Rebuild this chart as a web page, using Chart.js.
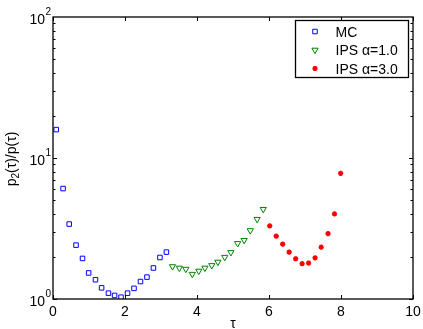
<!DOCTYPE html>
<html>
<head>
<meta charset="utf-8">
<script src="https://cdn.jsdelivr.net/npm/chart.js@4.4.0/dist/chart.umd.min.js"></script>
<style>
html, body { margin: 0; padding: 0; background: #fff; }
canvas { display: block; }
</style>
</head>
<body>
<canvas id="grafico" width="423" height="329"></canvas>
<script>
// datos
const mcTau = [0.09, 0.28, 0.45, 0.64, 0.82, 0.99, 1.18, 1.35, 1.54, 1.71, 1.89, 2.07, 2.25, 2.43, 2.61, 2.79, 2.97, 3.15];
const mcRatio = [15.9, 6.07, 3.40, 2.41, 1.94, 1.53, 1.37, 1.20, 1.10, 1.06, 1.03, 1.10, 1.19, 1.33, 1.43, 1.66, 1.97, 2.15];

const ips1Tau = [3.32, 3.51, 3.69, 3.87, 4.05, 4.22, 4.41, 4.58, 4.77, 4.94, 5.13, 5.31, 5.48, 5.67, 5.84];
const ips1Ratio = [1.70, 1.66, 1.63, 1.50, 1.58, 1.66, 1.73, 1.83, 1.98, 2.14, 2.48, 2.61, 3.06, 3.68, 4.33];

const ips3Tau = [6.02, 6.20, 6.38, 6.56, 6.74, 6.92, 7.10, 7.28, 7.45, 7.64, 7.82, 7.99];
const ips3Ratio = [3.30, 2.79, 2.45, 2.15, 1.93, 1.78, 1.80, 1.96, 2.33, 2.91, 4.01, 7.79];

const seriesLabels = ['MC', 'IPS \u03b1=1.0', 'IPS \u03b1=3.0'];
const xTicks = [0, 2, 4, 6, 8, 10];
const yExponents = [0, 1, 2];

const FONT = "'Liberation Sans', Arial, Helvetica, sans-serif";

function pares(xs, ys) {
    return xs.map((x, i) => ({ x: x, y: ys[i] }));
}

// dibuja la caja, las marcas hacia adentro y las etiquetas estilo matlab
const ejes = {
    id: 'ejes',
    afterDatasetsDraw(chart) {
        const ctx = chart.ctx;
        const a = chart.chartArea;
        const sx = chart.scales.x;
        const sy = chart.scales.y;
        ctx.save();
        ctx.strokeStyle = '#000';
        ctx.lineWidth = 1;
        ctx.beginPath();
        xTicks.forEach(v => {
            const px = Math.round(sx.getPixelForValue(v)) + 0.5;
            ctx.moveTo(px, a.bottom); ctx.lineTo(px, a.bottom - 4);
            ctx.moveTo(px, a.top); ctx.lineTo(px, a.top + 4);
        });
        for (let e = 0; e < yExponents.length - 1; e++) {
            for (let m = 1; m <= 9; m++) {
                const py = Math.round(sy.getPixelForValue(m * Math.pow(10, e))) + 0.5;
                const len = m === 1 ? 4 : 2.5;
                ctx.moveTo(a.left, py); ctx.lineTo(a.left + len, py);
                ctx.moveTo(a.right, py); ctx.lineTo(a.right - len, py);
            }
        }
        ctx.stroke();
        ctx.lineWidth = 1.3;
        ctx.strokeRect(a.left, a.top, a.right - a.left, a.bottom - a.top);
        ctx.restore();
    },
    afterDraw(chart) {
        const ctx = chart.ctx;
        const a = chart.chartArea;
        const sx = chart.scales.x;
        const sy = chart.scales.y;
        ctx.save();
        ctx.fillStyle = '#000';
        ctx.textBaseline = 'alphabetic';

        // etiquetas eje x
        ctx.font = '14px ' + FONT;
        ctx.textAlign = 'center';
        xTicks.forEach(v => {
            ctx.fillText(String(v), sx.getPixelForValue(v), a.bottom + 16.5);
        });
        ctx.fillText('\u03c4', (a.left + a.right) / 2, 328);

        // etiquetas eje y (10 con exponente)
        yExponents.forEach(e => {
            const py = sy.getPixelForValue(Math.pow(10, e));
            ctx.font = '14px ' + FONT;
            ctx.textAlign = 'right';
            ctx.fillText('10', a.left - 8, py + 6.5);
            ctx.font = '10px ' + FONT;
            ctx.textAlign = 'left';
            ctx.fillText(String(e), a.left - 7.5, py - 2);
        });

        // titulo eje y: p2(τ)/p(τ) con subindice
        ctx.save();
        ctx.translate(15.5, (a.top + a.bottom) / 2 + 1);
        ctx.rotate(-Math.PI / 2);
        ctx.textAlign = 'left';
        const partes = [
            { t: 'p', f: '14px ', dy: 0 },
            { t: '2', f: '10px ', dy: 3.5 },
            { t: '(\u03c4)/p(\u03c4)', f: '14px ', dy: 0 }
        ];
        let total = 0;
        partes.forEach(p => { ctx.font = p.f + FONT; p.w = ctx.measureText(p.t).width; total += p.w; });
        let cx = -total / 2;
        partes.forEach(p => {
            ctx.font = p.f + FONT;
            ctx.fillText(p.t, cx, p.dy);
            cx += p.w;
        });
        ctx.restore();

        // leyenda con borde
        const lx = 295.5, ly = 20.5, lw = 113, lh = 57;
        ctx.fillStyle = '#fff';
        ctx.fillRect(lx, ly, lw, lh);
        ctx.strokeStyle = '#000';
        ctx.lineWidth = 1.3;
        ctx.strokeRect(lx, ly, lw, lh);
        const filas = [31.5, 50, 68.5];
        chart.data.datasets.forEach((ds, i) => {
            ctx.save();
            ctx.fillStyle = ds.pointBackgroundColor;
            ctx.strokeStyle = ds.pointBorderColor;
            ctx.lineWidth = ds.pointBorderWidth;
            Chart.helpers.drawPoint(ctx, {
                pointStyle: ds.pointStyle,
                radius: ds.pointRadius,
                rotation: ds.pointRotation || 0,
                borderWidth: ds.pointBorderWidth
            }, 315, filas[i]);
            ctx.restore();
            ctx.fillStyle = '#000';
            ctx.font = '14px ' + FONT;
            ctx.textAlign = 'left';
            ctx.fillText(ds.label, 335.5, filas[i] + 5);
        });
        ctx.restore();
    }
};

const ctx = document.getElementById('grafico').getContext('2d');
const chart = new Chart(ctx, {
    type: 'scatter',
    data: {
        datasets: [{
            label: seriesLabels[0],
            data: pares(mcTau, mcRatio),
            pointStyle: 'rect',
            pointRadius: 3.2,
            pointBorderWidth: 1,
            pointBorderColor: '#0000ff',
            pointBackgroundColor: 'rgba(0,0,0,0)'
        }, {
            label: seriesLabels[1],
            data: pares(ips1Tau, ips1Ratio),
            pointStyle: 'triangle',
            pointRotation: 180,
            pointRadius: 3.6,
            pointBorderWidth: 1,
            pointBorderColor: '#008000',
            pointBackgroundColor: 'rgba(0,0,0,0)'
        }, {
            label: seriesLabels[2],
            data: pares(ips3Tau, ips3Ratio),
            pointStyle: 'star',
            pointRadius: 2.6,
            pointBorderWidth: 1.6,
            pointBorderColor: '#ff0000',
            pointBackgroundColor: '#ff0000'
        }]
    },
    options: {
        responsive: false,
        animation: false,
        devicePixelRatio: 1,
        events: [],
        layout: { padding: { left: 53, right: 10, top: 17, bottom: 30 } },
        plugins: { legend: { display: false }, tooltip: { enabled: false } },
        scales: {
            x: { type: 'linear', min: 0, max: 10, display: false },
            y: { type: 'logarithmic', min: 1, max: 100, display: false }
        }
    },
    plugins: [ejes]
});
</script>
</body>
</html>
